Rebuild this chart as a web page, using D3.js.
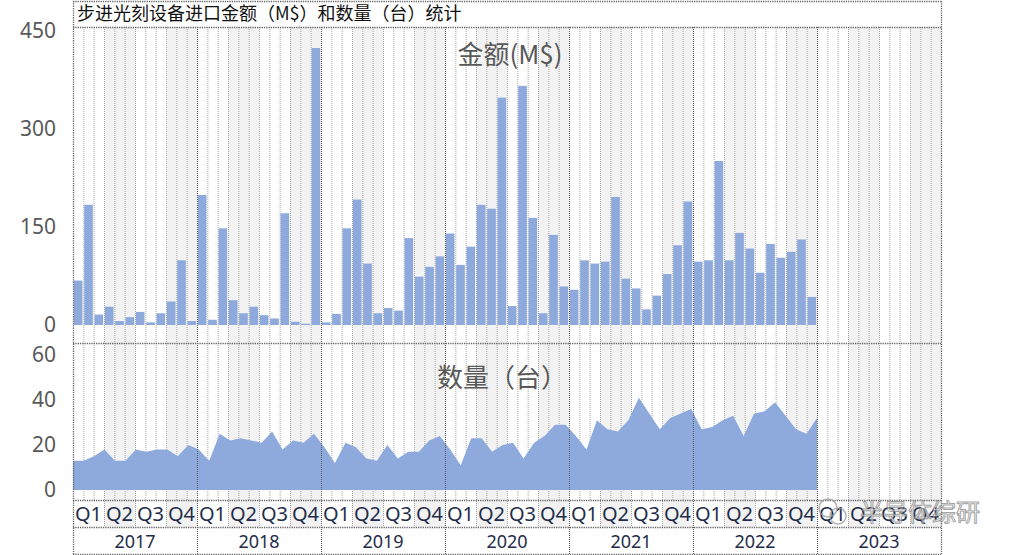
<!DOCTYPE html>
<html><head><meta charset="utf-8">
<script src="https://cdn.jsdelivr.net/npm/d3@7/dist/d3.min.js"></script>
<style>
body{margin:0;background:#fff;}
svg{display:block;font-family:"Noto Sans CJK SC","Noto Sans",sans-serif;}
</style></head>
<body><svg id="c" width="1015" height="555"></svg>
<script>
const years = ['2017','2018','2019','2020','2021','2022','2023'];
const quarters = ['Q1','Q2','Q3','Q4'];
const amount = [68,184,16,28,6,12,20,4,18,36,99,6,
  199,8,148,38,18,28,15,10,171,5,2,424,
  4,17,148,192,94,18,26,22,133,74,89,105,
  140,92,120,184,178,348,29,366,164,18,138,59,
  54,99,94,97,196,71,56,24,45,78,122,189,
  97,99,251,99,141,117,80,124,103,112,131,43];
const quantity = [13,13,15,18,13,13,18,17,18,18,15,20,
  18,13,25,22,23,22,21,26,18,22,21,25,
  19,12,21,19,14,13,20,14,17,17,22,24,
  18,11,23,23,17,20,21,14,21,24,29,29,
  24,18,31,27,26,31,41,34,27,32,34,36,
  27,28,31,33,24,34,35,39,33,27,25,32];
const amountTicks = [0,150,300,450];
const quantityTicks = [0,20,40,60];
const title = '步进光刻设备进口金额（M$）和数量（台）统计';
const amountLabel = '金额(M$)';
const quantityLabel = '数量（台）';

const svg = d3.select('#c');
const L = 73, R = 941, T = 27, MID = 343, BOT = 500, QROW = 527, YROW = 554;
const months = d3.range(years.length * 12);
const x = d3.scaleBand().domain(months).range([L, R]).paddingInner(0.16).paddingOuter(0.08);
const xCell = d3.scaleLinear().domain([0, months.length]).range([L, R]);
const yA = d3.scaleLinear().domain([0, 450]).range([325, 31]);
const yQ = d3.scaleLinear().domain([0, 60]).range([490, 355]);
const xP = d3.scalePoint().domain(d3.range(quantity.length)).range([L, xCell(quantity.length)]);

// quarter shading (Q2, Q4 gray)
const qs = d3.range(years.length * 4);
svg.append('g').selectAll('rect').data(qs.filter(q => q % 2 === 1)).join('rect')
  .attr('x', q => xCell(q * 3)).attr('width', xCell(3) - xCell(0))
  .attr('y', T).attr('height', QROW - T).attr('fill', '#f2f2f2');

// month lines
svg.append('g').selectAll('line').data(months.filter(m => m % 12 !== 0)).join('line')
  .attr('x1', m => xCell(m) + 0.5).attr('x2', m => xCell(m) + 0.5)
  .attr('y1', T).attr('y2', m => m % 3 === 0 ? QROW : BOT)
  .attr('stroke', '#a6a6a6').attr('stroke-width', 1).attr('stroke-dasharray', '1,1');

// bars
svg.append('g').selectAll('rect').data(amount).join('rect')
  .attr('x', (d, i) => x(i)).attr('width', x.bandwidth())
  .attr('y', d => yA(d)).attr('height', d => yA(0) - yA(d))
  .attr('fill', '#8eaadc');

// area
const area = d3.area().x((d, i) => xP(i)).y0(yQ(0)).y1(d => yQ(d));
svg.append('path').datum(quantity).attr('d', area).attr('fill', '#8eaadc');

// year lines
svg.append('g').selectAll('line').data(d3.range(1, years.length)).join('line')
  .attr('x1', y => xCell(y * 12) + 0.5).attr('x2', y => xCell(y * 12) + 0.5)
  .attr('y1', T).attr('y2', YROW)
  .attr('stroke', '#595959').attr('stroke-width', 1).attr('stroke-dasharray', '1,1');

// frame lines
const frame = svg.append('g').attr('stroke', '#666').attr('stroke-width', 1.3).attr('stroke-dasharray', '1.3,1').attr('fill', 'none');
[1, T, MID, BOT, QROW, YROW].forEach(yy => frame.append('line').attr('x1', L).attr('x2', R).attr('y1', yy + 0.5).attr('y2', yy + 0.5));
frame.append('line').attr('x1', L + 0.5).attr('x2', L + 0.5).attr('y1', 1).attr('y2', YROW);
frame.append('line').attr('x1', R + 0.5).attr('x2', R + 0.5).attr('y1', 1).attr('y2', YROW);

// axes
const ax1 = svg.append('g').attr('transform', `translate(${L - 17},0)`)
  .call(d3.axisLeft(yA).tickValues(amountTicks).tickSize(0).tickPadding(0));
const ax2 = svg.append('g').attr('transform', `translate(${L - 17},0)`)
  .call(d3.axisLeft(yQ).tickValues(quantityTicks).tickSize(0).tickPadding(0));
[ax1, ax2].forEach(a => {
  a.select('.domain').remove();
  a.selectAll('text').attr('font-size', 21).attr('fill', '#595959')
    .attr('font-family', '"Noto Sans","Noto Sans CJK SC",sans-serif');
});

// title
svg.append('text').attr('x', 77).attr('y', 20).attr('font-size', 18).attr('fill', '#111').text(title);

// panel labels
svg.append('text').attr('x', 510).attr('y', 64).attr('text-anchor', 'middle')
  .attr('font-size', 26).attr('fill', '#595959').text(amountLabel);
svg.append('text').attr('x', 502).attr('y', 387).attr('text-anchor', 'middle')
  .attr('font-size', 26).attr('fill', '#595959').text(quantityLabel);

// quarter labels
svg.append('g').selectAll('text').data(qs).join('text')
  .attr('x', q => xCell(q * 3 + 1.5)).attr('y', 521).attr('text-anchor', 'middle')
  .attr('font-size', 20).attr('fill', '#1f2d4a')
  .attr('font-family', '"Noto Sans",sans-serif')
  .text(q => quarters[q % 4]);

// year labels
svg.append('g').selectAll('text').data(years).join('text')
  .attr('x', (d, i) => xCell(i * 12 + 6)).attr('y', 548).attr('text-anchor', 'middle')
  .attr('font-size', 18).attr('fill', '#1f2d4a')
  .attr('font-family', '"Noto Sans",sans-serif')
  .text(d => d);

// watermark
const wm = svg.append('g').attr('opacity', 0.75);
wm.append('circle').attr('cx', 828).attr('cy', 508).attr('r', 9).attr('fill', 'none').attr('stroke', '#999').attr('stroke-width', 1.5);
wm.append('circle').attr('cx', 838).attr('cy', 516).attr('r', 8).attr('fill', 'none').attr('stroke', '#999').attr('stroke-width', 1.5);
wm.append('text').attr('x', 860).attr('y', 521).attr('font-size', 24).attr('fill', 'white')
  .attr('stroke', '#888').attr('stroke-width', 1).text('半导体综研');
</script></body></html>
